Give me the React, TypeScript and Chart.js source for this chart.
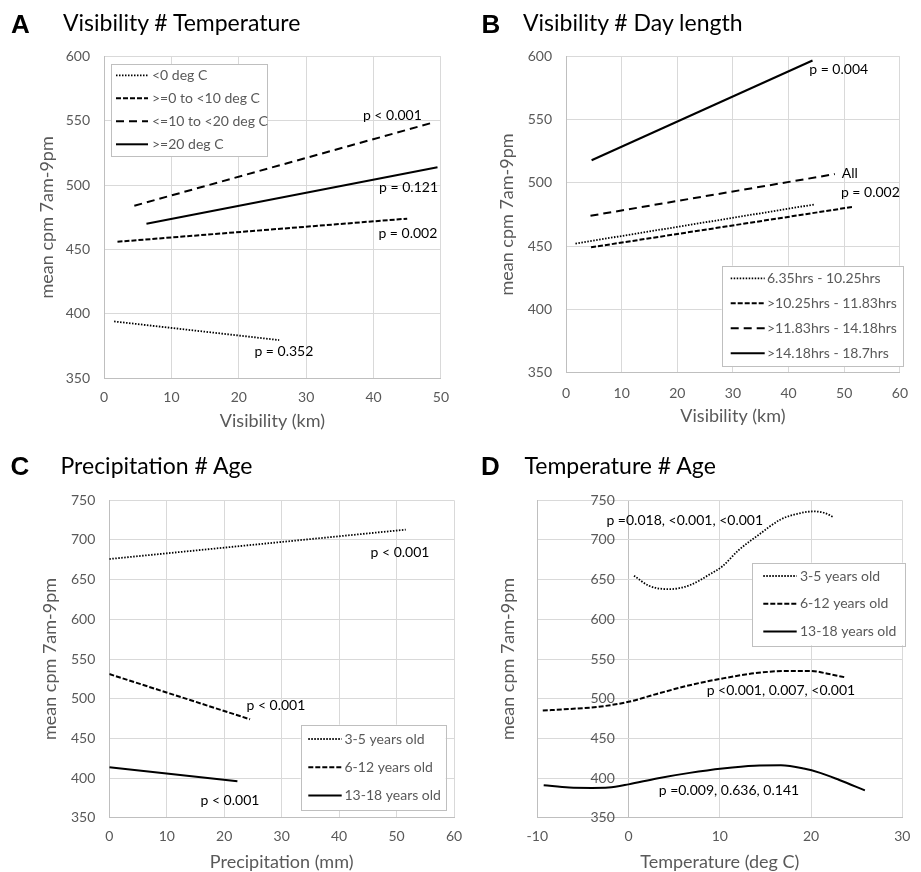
import React, { useEffect, useRef } from 'react';
import { Chart, registerables } from 'chart.js';

Chart.register(...registerables);

const FONT = 'Lato, "Open Sans", sans-serif';
const GREY = '#595959';
const GRID = '#d9d9d9';
const AXIS = '#bfbfbf';

// ---------------- Panel A : Visibility # Temperature ----------------
const aTitle = 'Visibility # Temperature';
const aXTicks = [0, 10, 20, 30, 40, 50];
const aYTicks = [350, 400, 450, 500, 550, 600];
const aLabels = ['<0 deg C', '>=0 to <10 deg C', '<=10 to <20 deg C', '>=20 deg C'];
const aBelow0X = [1.5, 26];
const aBelow0Y = [394, 379.5];
const a0to10X = [2, 45];
const a0to10Y = [456, 474];
const a10to20X = [4.5, 49];
const a10to20Y = [484, 549];
const a20upX = [6.3, 49.5];
const a20upY = [470, 514];
const aNoteText = ['p < 0.001', 'p = 0.121', 'p = 0.002', 'p = 0.352'];
const aNoteX = [42.8, 45.2, 45.1, 26.7];
const aNoteY = [554.6, 498.4, 462.6, 370.4];

// ---------------- Panel B : Visibility # Day length ----------------
const bTitle = 'Visibility # Day length';
const bXTicks = [0, 10, 20, 30, 40, 50, 60];
const bYTicks = [350, 400, 450, 500, 550, 600];
const bLabels = ['6.35hrs - 10.25hrs', '>10.25hrs - 11.83hrs', '>11.83hrs - 14.18hrs', '>14.18hrs - 18.7hrs'];
const bShortestX = [1.7, 44.7];
const bShortestY = [452, 483];
const bShortX = [4.5, 51.5];
const bShortY = [449, 481];
const bLongX = [4.4, 48.3];
const bLongY = [474, 507];
const bLongestX = [4.6, 44.3];
const bLongestY = [518, 597];
const bNoteText = ['p = 0.004', 'All', 'p = 0.002'];
const bNoteX = [49.0, 51.0, 54.7];
const bNoteY = [589.5, 507.6, 492.3];

// ---------------- Panel C : Precipitation # Age ----------------
const cTitle = 'Precipitation # Age';
const cXTicks = [0, 10, 20, 30, 40, 50, 60];
const cYTicks = [350, 400, 450, 500, 550, 600, 650, 700, 750];
const cLabels = ['3-5 years old', '6-12 years old', '13-18 years old'];
const cAge3X = [0, 51.6];
const cAge3Y = [676, 713];
const cAge6X = [0, 24.5];
const cAge6Y = [531, 474];
const cAge13X = [0, 22.3];
const cAge13Y = [413.5, 396];
const cNoteText = ['p < 0.001', 'p < 0.001', 'p < 0.001'];
const cNoteX = [50.6, 29.0, 21.0];
const cNoteY = [684.5, 490.8, 371.4];

// ---------------- Panel D : Temperature # Age ----------------
const dTitle = 'Temperature # Age';
const dXTicks = [-10, 0, 10, 20, 30];
const dYTicks = [350, 400, 450, 500, 550, 600, 650, 700, 750];
const dLabels = ['3-5 years old', '6-12 years old', '13-18 years old'];
const dAge3X = [0.6, 2.2, 4.4, 6.7, 8.8, 10.3, 12.05, 14.2, 16.7, 18.5, 20.3, 21.5, 22.5];
const dAge3Y = [655, 642.5, 638, 643, 656, 667, 687, 706, 726, 733, 736, 734, 728.5];
const dAge6X = [-9.4, -6.5, -3.5, 0, 3.1, 6.7, 10.3, 13.8, 17.4, 19.9, 22, 23.7];
const dAge6Y = [485, 487, 489.5, 496, 506, 517, 525.5, 532, 535, 535, 531, 527];
const dAge13X = [-9.3, -6.5, -4, -2.2, 0, 3.1, 6.7, 10.3, 13.8, 16.7, 19.2, 21, 23.1, 25.9];
const dAge13Y = [391, 388, 387.5, 388, 392, 399.5, 406.5, 412, 415.5, 416, 412, 406.5, 397.5, 384.5];
const dNoteText = ['p =0.018, <0.001, <0.001', 'p <0.001, 0.007, <0.001', 'p =0.009, 0.636, 0.141'];
const dNoteX = [6.16, 16.7, 11.0];
const dNoteY = [724.2, 510.8, 384];

const yTitle = 'mean cpm 7am-9pm';

// line styles (Excel-like)
const DOT = { borderDash: [1.5, 1.5], borderWidth: 1.8 };
const SHORT = { borderDash: [5, 2], borderWidth: 2 };
const LONG = { borderDash: [8, 5], borderWidth: 2 };
const SOLID = { borderDash: [] as number[], borderWidth: 2 };

const notesPlugin = {
  id: 'notes',
  afterDatasetsDraw(chart: any, _args: any, o: any) {
    const { ctx } = chart;
    const x = chart.scales.x;
    const y = chart.scales.y;
    ctx.save();
    ctx.font = `14px ${FONT}`;
    ctx.fillStyle = '#000';
    ctx.textAlign = 'center';
    ctx.textBaseline = 'middle';
    (o.text || []).forEach((t: string, i: number) => {
      ctx.fillText(t, x.getPixelForValue(o.x[i]), y.getPixelForValue(o.y[i]));
    });
    ctx.restore();
  },
};

const boxLegendPlugin = {
  id: 'boxLegend',
  afterDatasetsDraw(chart: any, _args: any, o: any) {
    if (!o || o.width === undefined) return;
    const { ctx } = chart;
    ctx.save();
    ctx.fillStyle = '#fff';
    ctx.fillRect(o.left, o.top, o.width, o.height);
    ctx.strokeStyle = AXIS;
    ctx.lineWidth = 1;
    ctx.strokeRect(Math.round(o.left) + 0.5, Math.round(o.top) + 0.5, Math.round(o.width), Math.round(o.height));
    chart.data.datasets.forEach((ds: any, i: number) => {
      const yy = o.firstRow + i * o.rowGap;
      ctx.beginPath();
      ctx.setLineDash(ds.borderDash || []);
      ctx.lineWidth = ds.borderWidth;
      ctx.strokeStyle = ds.borderColor;
      ctx.moveTo(o.sampleX, yy);
      ctx.lineTo(o.sampleX + o.sampleLen, yy);
      ctx.stroke();
      ctx.setLineDash([]);
      ctx.fillStyle = GREY;
      ctx.font = `14px ${FONT}`;
      ctx.textAlign = 'left';
      ctx.textBaseline = 'middle';
      ctx.fillText(ds.label, o.textX, yy);
    });
    ctx.restore();
  },
};

type Series = { label: string; xs: number[]; ys: number[]; style: any };

function buildConfig(p: any) {
  const datasets = p.series.map((s: Series) => ({
    label: s.label,
    data: s.xs.map((x, i) => ({ x, y: s.ys[i] })),
    borderColor: '#000',
    backgroundColor: '#000',
    borderWidth: s.style.borderWidth,
    borderDash: s.style.borderDash,
    pointRadius: 0,
    fill: false,
    tension: 0,
    cubicInterpolationMode: p.smooth ? 'monotone' : 'default',
  }));
  const xTicks: number[] = p.xTicks;
  const yTicks: number[] = p.yTicks;
  const scales: any = {
    x: {
      type: 'linear',
      min: xTicks[0],
      max: xTicks[xTicks.length - 1],
      ticks: { stepSize: xTicks[1] - xTicks[0], color: GREY, font: { family: FONT, size: 14 }, padding: p.xTickPad },
      grid: {
        color: (ctx: any) => (p.zeroLine && ctx.tick && ctx.tick.value === 0 ? AXIS : GRID),
        drawTicks: false,
      },
      border: { color: AXIS },
      title: {
        display: true,
        text: p.xTitle,
        color: GREY,
        font: { family: FONT, size: 18, lineHeight: 1 },
        padding: { top: 0, bottom: p.xTitlePad },
      },
      afterFit: (s: any) => {
        s.height = p.xHeight;
      },
    },
    y: {
      type: 'linear',
      position: 'left',
      min: yTicks[0],
      max: yTicks[yTicks.length - 1],
      ticks: {
        display: !p.yAtZero,
        stepSize: yTicks[1] - yTicks[0],
        color: GREY,
        font: { family: FONT, size: 14 },
        padding: 14,
      },
      grid: { color: GRID, drawTicks: false },
      border: { color: AXIS },
      title: {
        display: true,
        text: yTitle,
        color: GREY,
        font: { family: FONT, size: 18, lineHeight: 1 },
        padding: { top: p.yTitlePad, bottom: 0 },
      },
      afterFit: (s: any) => {
        s.width = p.yWidth;
      },
    },
  };
  if (p.yAtZero) {
    scales.y2 = {
      type: 'linear',
      axis: 'y',
      position: { x: p.yLabelAt },
      min: yTicks[0],
      max: yTicks[yTicks.length - 1],
      ticks: { stepSize: yTicks[1] - yTicks[0], color: GREY, font: { family: FONT, size: 14 }, padding: 0 },
      grid: { display: false, drawTicks: false },
      border: { display: false },
    };
  }
  return {
    type: 'line',
    data: { datasets },
    options: {
      responsive: false,
      animation: false,
      events: [],
      layout: { padding: p.padding },
      plugins: {
        legend: { display: false },
        tooltip: { enabled: false },
        title: { display: false },
        notes: { text: p.noteText, x: p.noteX, y: p.noteY },
        boxLegend: p.legend,
      },
      scales,
    },
    plugins: [boxLegendPlugin, notesPlugin],
  };
}

function ChartPanel({ left, top, width, height, params }: any) {
  const ref = useRef<HTMLCanvasElement>(null);
  useEffect(() => {
    const chart = new Chart(ref.current as HTMLCanvasElement, buildConfig(params) as any);
    return () => chart.destroy();
  }, []);
  return (
    <div style={{ position: 'absolute', left, top, width, height }}>
      <canvas ref={ref} width={width} height={height} style={{ width, height, display: 'block' }} />
    </div>
  );
}

function Header({ letter, title, letterLeft, titleLeft, letterTop, titleTop }: any) {
  return (
    <>
      <div
        style={{
          position: 'absolute',
          left: letterLeft,
          top: letterTop,
          fontFamily: '"Liberation Sans", Arial, sans-serif',
          fontWeight: 'bold',
          fontSize: 26,
          lineHeight: '28px',
          color: '#000',
          whiteSpace: 'nowrap',
        }}
      >
        {letter}
      </div>
      <div
        style={{
          position: 'absolute',
          left: titleLeft,
          top: titleTop,
          fontFamily: FONT,
          fontSize: 23,
          lineHeight: '27.6px',
          color: '#000',
          whiteSpace: 'nowrap',
        }}
      >
        {title}
      </div>
    </>
  );
}

const panelA = {
  series: [
    { label: aLabels[0], xs: aBelow0X, ys: aBelow0Y, style: DOT },
    { label: aLabels[1], xs: a0to10X, ys: a0to10Y, style: SHORT },
    { label: aLabels[2], xs: a10to20X, ys: a10to20Y, style: LONG },
    { label: aLabels[3], xs: a20upX, ys: a20upY, style: SOLID },
  ],
  xTicks: aXTicks,
  yTicks: aYTicks,
  xTitle: 'Visibility (km)',
  padding: { left: 0, top: 56.7, right: 10, bottom: 0 },
  yWidth: 104,
  xHeight: 54,
  xTickPad: 11,
  xTitlePad: 2,
  yTitlePad: 38,
  noteText: aNoteText,
  noteX: aNoteX,
  noteY: aNoteY,
  legend: { left: 111, top: 64, width: 156, height: 92, firstRow: 75.3, rowGap: 23, sampleX: 116, sampleLen: 32, textX: 152 },
};

const panelB = {
  series: [
    { label: bLabels[0], xs: bShortestX, ys: bShortestY, style: DOT },
    { label: bLabels[1], xs: bShortX, ys: bShortY, style: SHORT },
    { label: bLabels[2], xs: bLongX, ys: bLongY, style: LONG },
    { label: bLabels[3], xs: bLongestX, ys: bLongestY, style: SOLID },
  ],
  xTicks: bXTicks,
  yTicks: bYTicks,
  xTitle: 'Visibility (km)',
  padding: { left: 0, top: 56.7, right: 10.3, bottom: 0 },
  yWidth: 106,
  xHeight: 59.7,
  xTickPad: 13,
  xTitlePad: 7,
  yTitlePad: 37.7,
  noteText: bNoteText,
  noteX: bNoteX,
  noteY: bNoteY,
  legend: { left: 261.7, top: 265.7, width: 181, height: 100.3, firstRow: 278.3, rowGap: 25, sampleX: 270.7, sampleLen: 34, textX: 307 },
};

const panelC = {
  series: [
    { label: cLabels[0], xs: cAge3X, ys: cAge3Y, style: DOT },
    { label: cLabels[1], xs: cAge6X, ys: cAge6Y, style: SHORT },
    { label: cLabels[2], xs: cAge13X, ys: cAge13Y, style: SOLID },
  ],
  xTicks: cXTicks,
  yTicks: cYTicks,
  xTitle: 'Precipitation (mm)',
  padding: { left: 0, top: 68.3, right: 21, bottom: 0 },
  yWidth: 109.3,
  xHeight: 54.3,
  xTickPad: 10.6,
  xTitlePad: 0.5,
  yTitlePad: 41,
  noteText: cNoteText,
  noteX: cNoteX,
  noteY: cNoteY,
  legend: { left: 300.7, top: 292.7, width: 145, height: 85.3, firstRow: 307, rowGap: 28.3, sampleX: 308.3, sampleLen: 33.4, textX: 344.5 },
};

const panelD = {
  series: [
    { label: dLabels[0], xs: dAge3X, ys: dAge3Y, style: DOT },
    { label: dLabels[1], xs: dAge6X, ys: dAge6Y, style: SHORT },
    { label: dLabels[2], xs: dAge13X, ys: dAge13Y, style: SOLID },
  ],
  smooth: true,
  zeroLine: true,
  yAtZero: true,
  yLabelAt: -1.5,
  xTicks: dXTicks,
  yTicks: dYTicks,
  xTitle: 'Temperature (deg C)',
  padding: { left: 0, top: 68.3, right: 10, bottom: 0 },
  yWidth: 77.3,
  xHeight: 54.3,
  xTickPad: 10.6,
  xTitlePad: 0.5,
  yTitlePad: 39.3,
  noteText: dNoteText,
  noteX: dNoteX,
  noteY: dNoteY,
  legend: { left: 292.3, top: 130.7, width: 153, height: 82.6, firstRow: 144, rowGap: 27.7, sampleX: 303.3, sampleLen: 33.4, textX: 340 },
};

export default function App() {
  return (
    <div style={{ position: 'absolute', left: 0, top: 0, width: 921, height: 872, background: '#fff', overflow: 'hidden' }}>
      <ChartPanel left={0} top={0} width={460} height={432} params={panelA} />
      <ChartPanel left={460} top={0} width={461} height={432} params={panelB} />
      <ChartPanel left={0} top={432} width={475} height={440} params={panelC} />
      <ChartPanel left={460} top={432} width={461} height={440} params={panelD} />
      <Header letter="A" title={aTitle} letterLeft={11} titleLeft={63} letterTop={10.3} titleTop={9.3} />
      <Header letter="B" title={bTitle} letterLeft={481.5} titleLeft={523} letterTop={10.3} titleTop={9.3} />
      <Header letter="C" title={cTitle} letterLeft={10.5} titleLeft={60.5} letterTop={452} titleTop={452.3} />
      <Header letter="D" title={dTitle} letterLeft={481} titleLeft={524.5} letterTop={452} titleTop={452.3} />
    </div>
  );
}
